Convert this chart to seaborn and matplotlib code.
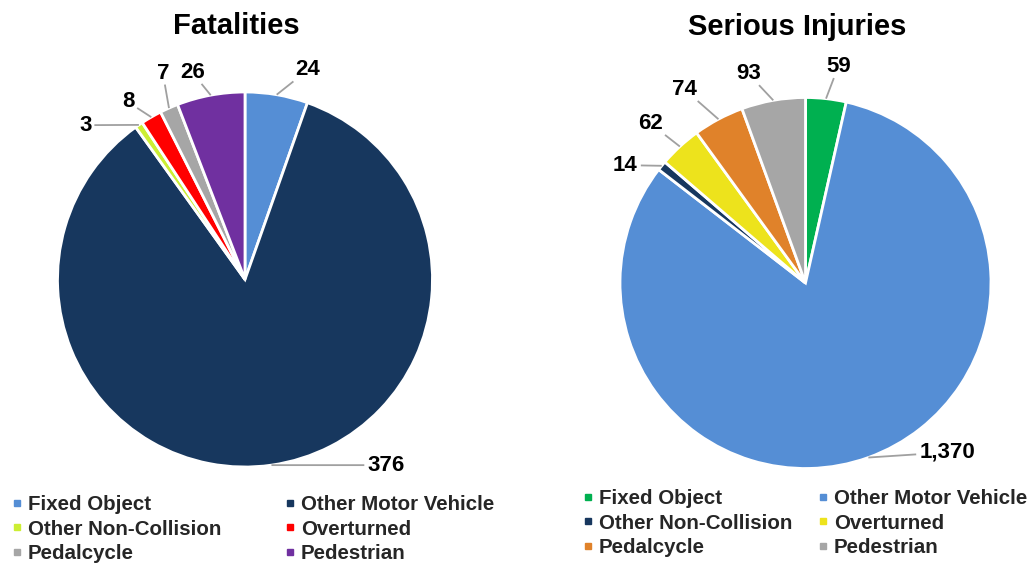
import numpy as np
import matplotlib
matplotlib.use("Agg")
import matplotlib.pyplot as plt
import seaborn as sns
from matplotlib.lines import Line2D

# ---- data ----
categories = ["Fixed Object", "Other Motor Vehicle", "Other Non-Collision",
              "Overturned", "Pedalcycle", "Pedestrian"]
fatalities = [24, 376, 3, 8, 7, 26]
serious_injuries = [59, 1370, 14, 62, 74, 93]
titles = ["Fatalities", "Serious Injuries"]
fatal_colors = ["#558ED5", "#17375E", "#CCEE33", "#FF0000", "#A6A6A6", "#7030A0"]
injury_colors = ["#00B050", "#558ED5", "#17375E", "#EDE31C", "#E0822A", "#A6A6A6"]

sns.set_theme(style="white")
plt.rcParams["font.family"] = ["Liberation Sans", "DejaVu Sans"]

W, H = 1032, 563
fig = plt.figure(figsize=(W / 100, H / 100), dpi=100)
ax = fig.add_axes([0, 0, 1, 1])

# layout (pixel space, y measured from top)
panels = [
    dict(values=fatalities, colors=fatal_colors, title=titles[0],
         center=(245, 279.5), radius=187.5, title_xy=(236, 26),
         label_polar=[(73.3, 1.167), (-52.8, 1.243), (136.0, 1.185),
                      (123.4, 1.134), (111.7, 1.185), (104.3, 1.14)],
         legend_xy=(11.8, 495), colspacing=3.1),
    dict(values=serious_injuries, colors=injury_colors, title=titles[1],
         center=(805.5, 283), radius=185.5, title_xy=(797, 27),
         label_polar=[(81.4, 1.18), (-50.1, 1.19), (146.8, 1.16),
                      (134.2, 1.20), (122.0, 1.23), (105.3, 1.17)],
         legend_xy=(582.8, 489), colspacing=1.25),
]

label_fs = 16
for p in panels:
    cx, cy = p["center"][0], H - p["center"][1]
    r = p["radius"]
    wedges, _ = ax.pie(p["values"], colors=p["colors"], startangle=90,
                       counterclock=False, center=(cx, cy), radius=r,
                       wedgeprops=dict(edgecolor="white", linewidth=2))
    for w, v, (ang, rf) in zip(wedges, p["values"], p["label_polar"]):
        mid = np.deg2rad((w.theta1 + w.theta2) / 2)
        ex, ey = cx + r * np.cos(mid), cy + r * np.sin(mid)
        lx = cx + rf * r * np.cos(np.deg2rad(ang))
        ly = cy + rf * r * np.sin(np.deg2rad(ang))
        txt = f"{v:,}"
        ax.text(lx, ly, txt, ha="center", va="center", fontsize=label_fs,
                fontweight="bold", color="black")
        # leader line from slice edge to label box
        tw = sum(6.2 if c == "," else 12.4 for c in txt) / 2 + 3
        th = 8.5 + 3
        dx, dy = ex - lx, ey - ly
        s = min(tw / abs(dx) if dx else np.inf, th / abs(dy) if dy else np.inf)
        ax.plot([ex, lx + dx * s], [ey, ly + dy * s], color="#A0A0A0", lw=1.3,
                solid_capstyle="butt")
    ax.text(p["title_xy"][0], H - p["title_xy"][1], p["title"], ha="center",
            va="center", fontsize=21, fontweight="bold", color="black")
    handles = [Line2D([], [], marker="s", linestyle="", color=c, markersize=5)
               for c in p["colors"]]
    order = [0, 2, 4, 1, 3, 5]
    fig.legend([handles[i] for i in order], [categories[i] for i in order],
               ncol=2, loc="upper left",
               bbox_to_anchor=(p["legend_xy"][0] / W, 1 - p["legend_xy"][1] / H),
               bbox_transform=fig.transFigure, frameon=False, borderpad=0,
               borderaxespad=0, handlelength=0.5, handletextpad=0.28,
               labelspacing=0.27, columnspacing=p["colspacing"],
               prop=dict(size=14.8, weight="bold"))

ax.set_xlim(0, W)
ax.set_ylim(0, H)
ax.set_aspect("auto")
ax.axis("off")
fig.savefig("out.png", dpi=100)
